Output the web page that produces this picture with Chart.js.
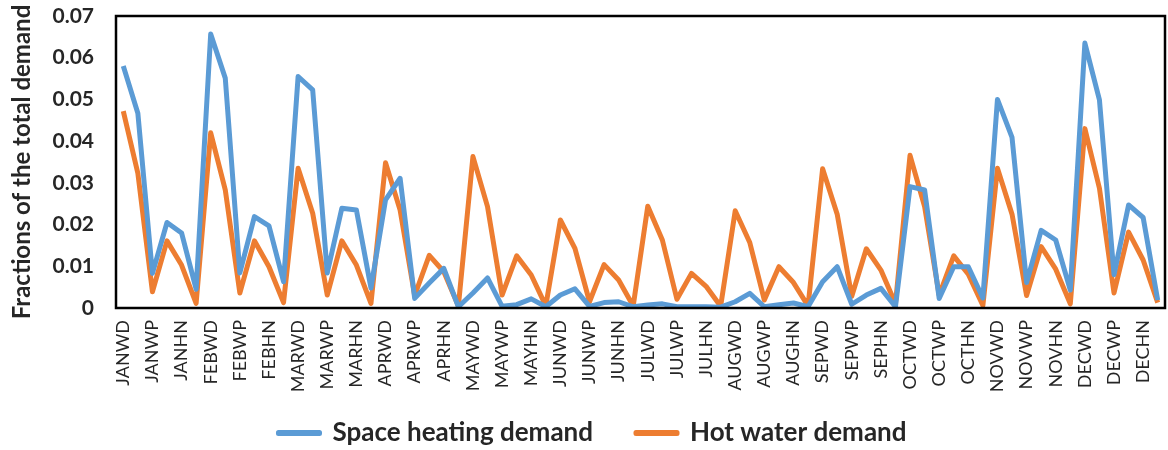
<!DOCTYPE html>
<html>
<head>
<meta charset="utf-8">
<script src="https://cdn.jsdelivr.net/npm/chart.js@4.4.1/dist/chart.umd.min.js"></script>
<style>
    html, body { margin: 0; padding: 0; background: #fff; }
    .chart-container { position: relative; width: 1168px; height: 450px; }
</style>
</head>
<body>
<div class="chart-container">
    <canvas id="demandChart"></canvas>
</div>
<script>
// months x day-types (WD, WN, WP, HD, HN, HP) -> 72 categories
const months = ['JAN', 'FEB', 'MAR', 'APR', 'MAY', 'JUN', 'JUL', 'AUG', 'SEP', 'OCT', 'NOV', 'DEC'];
const periods = ['WD', 'WN', 'WP', 'HD', 'HN', 'HP'];

const spaceHeating = [
    0.058, 0.0467, 0.0083, 0.0205, 0.018, 0.0045,     // JAN
    0.0657, 0.0551, 0.0084, 0.0219, 0.0197, 0.0063,   // FEB
    0.0555, 0.0523, 0.0084, 0.0239, 0.0235, 0.0048,   // MAR
    0.0259, 0.0311, 0.0023, 0.006, 0.0095, 0.0003,    // APR
    0.0036, 0.0072, 0.0004, 0.0008, 0.0022, 0.0003,   // MAY
    0.0031, 0.0046, 0.0004, 0.0013, 0.0015, 0.0003,   // JUN
    0.0007, 0.001, 0.0003, 0.0003, 0.0003, 0.0002,    // JUL
    0.0015, 0.0035, 0.0003, 0.0008, 0.0012, 0.0003,   // AUG
    0.0063, 0.0099, 0.0009, 0.0031, 0.0047, 0.0003,   // SEP
    0.0291, 0.0283, 0.0023, 0.0099, 0.0099, 0.0024,   // OCT
    0.050, 0.0409, 0.0061, 0.0186, 0.0163, 0.0043,    // NOV
    0.0635, 0.0499, 0.008, 0.0247, 0.0217, 0.0019     // DEC
];

const hotWater = [
    0.0472, 0.0323, 0.0039, 0.0161, 0.0103, 0.0011,   // JAN
    0.042, 0.0283, 0.0036, 0.0161, 0.0099, 0.0013,    // FEB
    0.0335, 0.0227, 0.0031, 0.0161, 0.0103, 0.0011,   // MAR
    0.0348, 0.0235, 0.003, 0.0126, 0.0087, 0.0005,    // APR
    0.0363, 0.0243, 0.0031, 0.0125, 0.0079, 0.0005,   // MAY
    0.0211, 0.0143, 0.0015, 0.0104, 0.0067, 0.0005,   // JUN
    0.0244, 0.0163, 0.0021, 0.0083, 0.0052, 0.0004,   // JUL
    0.0233, 0.0157, 0.0019, 0.0099, 0.0061, 0.0005,   // AUG
    0.0334, 0.0225, 0.0028, 0.0142, 0.0091, 0.001,    // SEP
    0.0366, 0.0243, 0.0031, 0.0125, 0.0081, 0.0006,   // OCT
    0.0335, 0.0225, 0.003, 0.0147, 0.0093, 0.001,     // NOV
    0.043, 0.0287, 0.0036, 0.0182, 0.0115, 0.0013     // DEC
];

const yTicks = [0, 0.01, 0.02, 0.03, 0.04, 0.05, 0.06, 0.07];

const categories = [];
months.forEach(m => periods.forEach(p => categories.push(m + p)));

const FONT = 'Lato, "Open Sans", sans-serif';
const TEXT = '#262626';

// black frame round the plot area, legend nudged right a little
const plotFrame = {
    id: 'plotFrame',
    afterLayout(chart) {
        if (chart.legend) {
            chart.legend.left += 10;
            chart.legend.right += 10;
        }
    },
    afterDatasetsDraw(chart) {
        const a = chart.chartArea;
        const ctx = chart.ctx;
        ctx.save();
        ctx.strokeStyle = '#000';
        ctx.lineWidth = 2.5;
        ctx.strokeRect(a.left, a.top, a.right - a.left, a.bottom - a.top);
        ctx.restore();
    }
};

new Chart(document.getElementById('demandChart'), {
    type: 'line',
    data: {
        labels: categories,
        datasets: [
            {
                label: 'Space heating demand',
                data: spaceHeating,
                borderColor: '#5B9BD5',
                backgroundColor: '#5B9BD5',
                borderWidth: 5,
                pointRadius: 0,
                tension: 0,
                borderJoinStyle: 'round'
            },
            {
                label: 'Hot water demand',
                data: hotWater,
                borderColor: '#ED7D31',
                backgroundColor: '#ED7D31',
                borderWidth: 5,
                pointRadius: 0,
                tension: 0,
                borderJoinStyle: 'round'
            }
        ]
    },
    options: {
        responsive: true,
        maintainAspectRatio: false,
        animation: false,
        layout: { padding: { top: 16, right: 3, left: 0, bottom: -6 } },
        plugins: {
            legend: {
                position: 'bottom',
                labels: {
                    color: TEXT,
                    font: { family: FONT, size: 26, weight: 'bold' },
                    boxWidth: 41,
                    boxHeight: 1,
                    padding: 43
                }
            },
            tooltip: { enabled: false }
        },
        scales: {
            x: {
                offset: true,
                grid: { display: false, drawTicks: false },
                border: { display: false },
                ticks: {
                    autoSkip: false,
                    maxRotation: 90,
                    minRotation: 90,
                    padding: 12,
                    color: TEXT,
                    font: { family: FONT, size: 18 },
                    callback: function(value, index) {
                        return index % 2 === 0 ? this.getLabelForValue(value) : '';
                    }
                },
                afterFit(scale) {
                    scale.height = 69;
                    scale.paddingLeft = 0;
                    scale.paddingRight = 0;
                    // the labels reach below the axis box, into the legend band
                    scale._computeLabelArea = () => null;
                }
            },
            y: {
                min: 0,
                max: 0.07,
                afterBuildTicks(scale) { scale.ticks = yTicks.map(v => ({ value: v })); },
                grid: { display: false, drawTicks: false },
                border: { display: false },
                ticks: {
                    padding: 22,
                    color: TEXT,
                    font: { family: FONT, size: 21, weight: 'bold' },
                    callback: v => v === 0 ? '0' : v.toFixed(2)
                },
                title: {
                    display: true,
                    text: 'Fractions of the total demand',
                    color: TEXT,
                    font: { family: FONT, size: 24, weight: 'bold' },
                    padding: { top: 8, bottom: 0 }
                },
                afterFit(scale) {
                    scale.width = 116;
                    scale.paddingTop = 0;
                    scale.paddingBottom = 0;
                }
            }
        }
    },
    plugins: [plotFrame]
});
</script>
</body>
</html>
